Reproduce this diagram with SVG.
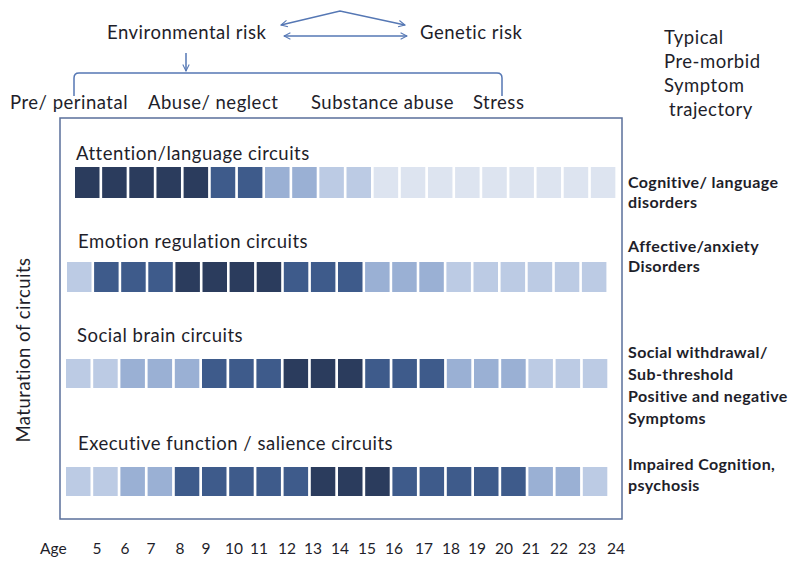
<svg xmlns="http://www.w3.org/2000/svg" width="800" height="567" viewBox="0 0 800 567">
<style>
text{font-family:Lato,"Liberation Sans",sans-serif;fill:#1e1e2a}
.t{font-size:18.5px;letter-spacing:0.5px}
.h{font-size:18.5px;letter-spacing:0.5px}
.r{font-size:16px;font-weight:bold;letter-spacing:0.4px}
.a{font-size:15.5px}
.ln{fill:none;stroke:#5577b4;stroke-width:1.5}
.D{fill:#2b3c5d}.M{fill:#3e5b8b}.m{fill:#9ab0d4}.L{fill:#bccbe4}.V{fill:#dde4f0}
</style>
<defs>
<marker id="ah" viewBox="0 0 10 10" refX="9" refY="5" markerWidth="8" markerHeight="8" orient="auto-start-reverse" markerUnits="userSpaceOnUse">
<path d="M1,1 L9,5 L1,9" fill="none" stroke="#5577b4" stroke-width="1.3"/>
</marker>
</defs>
<rect width="800" height="567" fill="#fff"/>
<g id="connectors">
<polyline class="ln" points="281,25 340,11 405,25" marker-start="url(#ah)" marker-end="url(#ah)"/>
<line class="ln" x1="284" y1="36" x2="407" y2="36" marker-start="url(#ah)" marker-end="url(#ah)"/>
<line class="ln" x1="186" y1="53" x2="186" y2="71" marker-end="url(#ah)"/>
<path class="ln" d="M74,96 V78 Q74,73 79,73 H497 Q502,73 502,78 V96"/>
</g>
<g id="env"><text class="h" x="107" y="39">Environmental risk</text></g>
<g id="gen"><text class="h" x="420" y="39">Genetic risk</text></g>
<g id="factors">
<text class="h" x="10" y="109">Pre/ perinatal</text>
<text class="h" x="148" y="109">Abuse/ neglect</text>
<text class="h" x="311" y="109">Substance abuse</text>
<text class="h" x="473" y="109">Stress</text>
</g>
<g id="legend-title">
<text class="h" x="664" y="44">Typical</text>
<text class="h" x="664" y="68">Pre-morbid</text>
<text class="h" x="664" y="92">Symptom</text>
<text class="h" x="669" y="116">trajectory</text>
</g>
<g id="frame"><rect x="60" y="118" width="562" height="401" fill="none" stroke="#5a6f9a" stroke-width="1.5"/></g>
<g id="ylabel"><text class="t" transform="translate(30,350) rotate(-90)" text-anchor="middle">Maturation of circuits</text></g>
<g id="row1">
<text class="t" x="76" y="160">Attention/language circuits</text>
<g transform="translate(0,167)">
<rect class="D" x="75" width="24.5" height="31"/><rect class="D" x="102.15" width="24.5" height="31"/><rect class="D" x="129.3" width="24.5" height="31"/><rect class="D" x="156.45" width="24.5" height="31"/><rect class="D" x="183.6" width="24.5" height="31"/>
<rect class="M" x="210.75" width="24.5" height="31"/><rect class="M" x="237.9" width="24.5" height="31"/>
<rect class="m" x="265.05" width="24.5" height="31"/><rect class="m" x="292.2" width="24.5" height="31"/>
<rect class="L" x="319.35" width="24.5" height="31"/><rect class="L" x="346.5" width="24.5" height="31"/>
<rect class="V" x="373.65" width="24.5" height="31"/><rect class="V" x="400.8" width="24.5" height="31"/><rect class="V" x="427.95" width="24.5" height="31"/><rect class="V" x="455.1" width="24.5" height="31"/><rect class="V" x="482.25" width="24.5" height="31"/><rect class="V" x="509.4" width="24.5" height="31"/><rect class="V" x="536.55" width="24.5" height="31"/><rect class="V" x="563.7" width="24.5" height="31"/><rect class="V" x="590.85" width="24.5" height="31"/>
</g>
</g>
<g id="row2">
<text class="t" x="78" y="248">Emotion regulation circuits</text>
<g transform="translate(0,262)">
<rect class="L" x="67" width="24.5" height="30"/>
<rect class="M" x="94.1" width="24.5" height="30"/><rect class="M" x="121.2" width="24.5" height="30"/><rect class="M" x="148.3" width="24.5" height="30"/>
<rect class="D" x="175.4" width="24.5" height="30"/><rect class="D" x="202.5" width="24.5" height="30"/><rect class="D" x="229.6" width="24.5" height="30"/><rect class="D" x="256.7" width="24.5" height="30"/>
<rect class="M" x="283.8" width="24.5" height="30"/><rect class="M" x="310.9" width="24.5" height="30"/><rect class="M" x="338" width="24.5" height="30"/>
<rect class="m" x="365.1" width="24.5" height="30"/><rect class="m" x="392.2" width="24.5" height="30"/><rect class="m" x="419.3" width="24.5" height="30"/>
<rect class="L" x="446.4" width="24.5" height="30"/><rect class="L" x="473.5" width="24.5" height="30"/><rect class="L" x="500.6" width="24.5" height="30"/><rect class="L" x="527.7" width="24.5" height="30"/><rect class="L" x="554.8" width="24.5" height="30"/><rect class="L" x="581.9" width="24.5" height="30"/>
</g>
</g>
<g id="row3">
<text class="t" x="77" y="342">Social brain circuits</text>
<g transform="translate(0,359)">
<rect class="L" x="66" width="24.5" height="29"/><rect class="L" x="93.2" width="24.5" height="29"/>
<rect class="m" x="120.4" width="24.5" height="29"/><rect class="m" x="147.6" width="24.5" height="29"/><rect class="m" x="174.8" width="24.5" height="29"/>
<rect class="M" x="202" width="24.5" height="29"/><rect class="M" x="229.2" width="24.5" height="29"/><rect class="M" x="256.4" width="24.5" height="29"/>
<rect class="D" x="283.6" width="24.5" height="29"/><rect class="D" x="310.8" width="24.5" height="29"/><rect class="D" x="338" width="24.5" height="29"/>
<rect class="M" x="365.2" width="24.5" height="29"/><rect class="M" x="392.4" width="24.5" height="29"/><rect class="M" x="419.6" width="24.5" height="29"/>
<rect class="m" x="446.8" width="24.5" height="29"/><rect class="m" x="474" width="24.5" height="29"/><rect class="m" x="501.2" width="24.5" height="29"/>
<rect class="L" x="528.4" width="24.5" height="29"/><rect class="L" x="555.6" width="24.5" height="29"/><rect class="L" x="582.8" width="24.5" height="29"/>
</g>
</g>
<g id="row4">
<text class="t" x="78" y="450">Executive function / salience circuits</text>
<g transform="translate(0,467)">
<rect class="L" x="66" width="24.5" height="29"/><rect class="L" x="93.2" width="24.5" height="29"/>
<rect class="m" x="120.4" width="24.5" height="29"/><rect class="m" x="147.6" width="24.5" height="29"/>
<rect class="M" x="174.8" width="24.5" height="29"/><rect class="M" x="202" width="24.5" height="29"/><rect class="M" x="229.2" width="24.5" height="29"/><rect class="M" x="256.4" width="24.5" height="29"/><rect class="M" x="283.6" width="24.5" height="29"/>
<rect class="D" x="310.8" width="24.5" height="29"/><rect class="D" x="338" width="24.5" height="29"/><rect class="D" x="365.2" width="24.5" height="29"/>
<rect class="M" x="392.4" width="24.5" height="29"/><rect class="M" x="419.6" width="24.5" height="29"/><rect class="M" x="446.8" width="24.5" height="29"/><rect class="M" x="474" width="24.5" height="29"/><rect class="M" x="501.2" width="24.5" height="29"/>
<rect class="m" x="528.4" width="24.5" height="29"/><rect class="m" x="555.6" width="24.5" height="29"/>
<rect class="L" x="582.8" width="24.5" height="29"/>
</g>
</g>
<g id="outcome1"><text class="r" x="628" y="188">Cognitive/ language</text><text class="r" x="628" y="208">disorders</text></g>
<g id="outcome2"><text class="r" x="628" y="252">Affective/anxiety</text><text class="r" x="628" y="272">Disorders</text></g>
<g id="outcome3"><text class="r" x="628" y="358">Social withdrawal/</text><text class="r" x="628" y="380">Sub-threshold</text><text class="r" x="628" y="402">Positive and negative</text><text class="r" x="628" y="424">Symptoms</text></g>
<g id="outcome4"><text class="r" x="628" y="470">Impaired Cognition,</text><text class="r" x="628" y="491">psychosis</text></g>
<g id="age-axis" class="a">
<text x="40" y="554">Age</text>
<g text-anchor="middle">
<text x="97" y="554">5</text><text x="125" y="554">6</text><text x="151" y="554">7</text><text x="180" y="554">8</text><text x="206" y="554">9</text>
<text x="234" y="554">10</text><text x="259" y="554">11</text><text x="287" y="554">12</text><text x="313" y="554">13</text><text x="340" y="554">14</text>
<text x="367" y="554">15</text><text x="394" y="554">16</text><text x="424" y="554">17</text><text x="451" y="554">18</text><text x="477" y="554">19</text>
<text x="504" y="554">20</text><text x="531" y="554">21</text><text x="559" y="554">22</text><text x="587" y="554">23</text><text x="616" y="554">24</text>
</g>
</g>
</svg>
